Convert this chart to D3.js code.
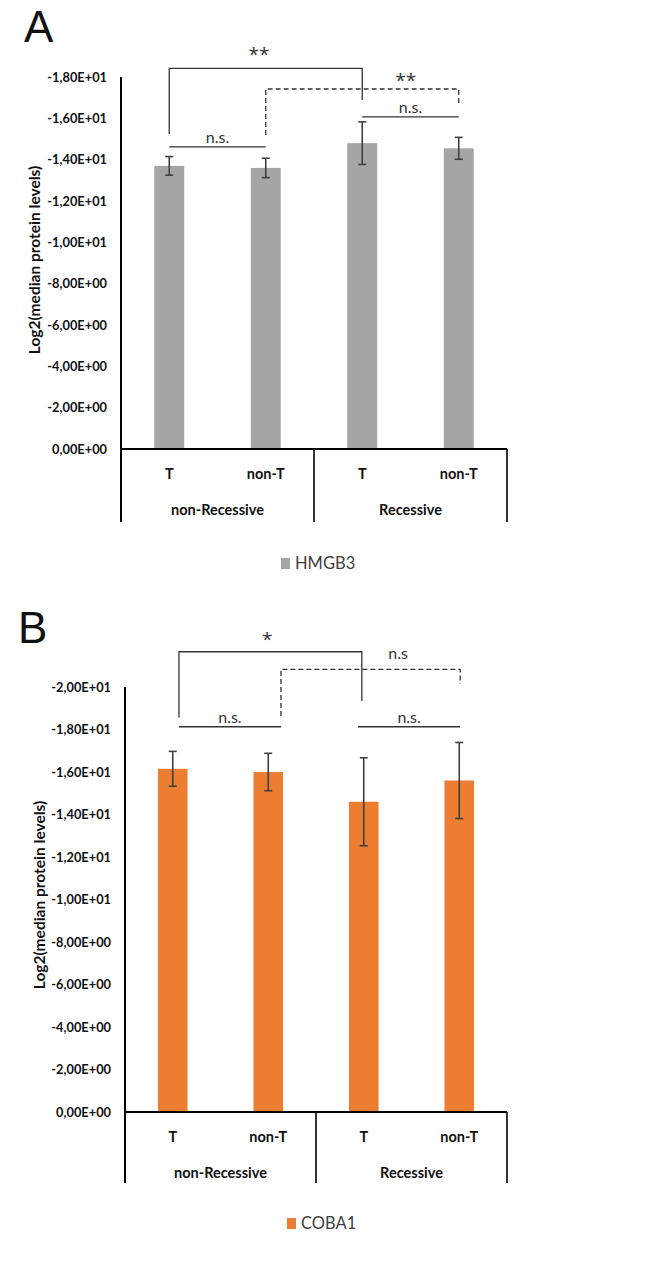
<!DOCTYPE html>
<html>
<head>
<meta charset="utf-8">
<script src="https://cdn.jsdelivr.net/npm/d3@7"></script>
<style>
  html, body { margin: 0; padding: 0; background: #fff; }
  svg { display: block; }
</style>
</head>
<body>
<svg id="chart" width="646" height="1268"></svg>
<script>
// ---------------- DATA ----------------
const categories = ["T", "non-T", "T", "non-T"];
const groups = ["non-Recessive", "Recessive"];

const hmgb3Values = [-13.7, -13.6, -14.8, -14.55];
const hmgb3Errors = [0.45, 0.47, 1.03, 0.53];
const hmgb3Ticks = [0, -2, -4, -6, -8, -10, -12, -14, -16, -18];

const coba1Values = [-16.15, -16.0, -14.6, -15.6];
const coba1Errors = [0.82, 0.88, 2.07, 1.79];
const coba1Ticks = [0, -2, -4, -6, -8, -10, -12, -14, -16, -18, -20];

// significance annotations: from/to category index (fractional), bracket level and leg ends (data units)
const hmgb3Signif = [
  { from: 0, to: 2, level: -18.42, leftEnd: -15.24, rightEnd: -16.89, label: "**", labelY: -19.3, labelX: 0.93, dashed: false },
  { from: 1, to: 3, level: -17.42, leftEnd: -15.19, rightEnd: -16.74, label: "**", labelY: -18.05, labelX: 2.45, dashed: true },
  { from: 0, to: 1, level: -14.62, label: "n.s.", dashed: false },
  { from: 2, to: 3, level: -16.07, label: "n.s.", dashed: false }
];
const coba1Signif = [
  { from: 0.065, to: 1.98, level: -21.66, leftEnd: -18.56, rightEnd: -19.34, label: "*", labelY: -22.45, labelX: 0.99, dashed: false },
  { from: 1.133, to: 3.01, level: -20.83, leftEnd: -18.64, rightEnd: -20.14, label: "n.s", labelY: -21.6, labelX: 2.36, dashed: true },
  { from: 0.065, to: 1.133, level: -18.13, label: "n.s.", dashed: false },
  { from: 1.94, to: 3.01, level: -18.13, label: "n.s.", dashed: false }
];

// ---------------- DRAW ----------------
const svg = d3.select("#chart");
const FONT = "Lato, 'Open Sans', 'DejaVu Sans', sans-serif";

function fmtTick(v) {
  if (v === 0) return "0,00E+00";
  const a = Math.abs(v);
  const e = Math.floor(Math.log10(a));
  const m = a / Math.pow(10, e);
  return (v < 0 ? "-" : "") + m.toFixed(2).replace(".", ",") + "E+" + String(e).padStart(2, "0");
}

function drawPanel(opt) {
  const g = svg.append("g");
  const { left, right, yZero, yTop, topVal, values, errors, ticks, color, signif, letter, letterX, letterY,
          legendLabel, legendX, legendY, titleX, titleY, sepBottom } = opt;

  const x = d3.scaleBand().domain(d3.range(categories.length)).range([left, right]).paddingInner(0).paddingOuter(0);
  const xi = d3.scaleLinear().domain([-0.5, categories.length - 0.5]).range([left, right]);
  const y = d3.scaleLinear().domain([0, topVal]).range([yZero, yTop]);

  // panel letter
  g.append("text").attr("x", letterX).attr("y", letterY)
    .attr("font-family", "'Liberation Sans', Arial, sans-serif").attr("font-size", 44)
    .attr("fill", "#111").text(letter);

  // y axis via d3.axisLeft
  const yAxis = d3.axisLeft(y).tickValues(ticks).tickFormat(fmtTick).tickSize(0).tickPadding(14);
  const ya = g.append("g").attr("transform", `translate(${left},0)`).call(yAxis);
  ya.select(".domain").remove();
  ya.selectAll("text").attr("font-family", FONT).attr("font-weight", "bold")
    .attr("font-size", 12.8).attr("fill", "#111");

  // y axis line (extends down to category separators)
  g.append("line").attr("x1", left).attr("x2", left).attr("y1", yTop).attr("y2", sepBottom)
    .attr("stroke", "#000").attr("stroke-width", 2);

  // y title
  g.append("text").attr("transform", `translate(${titleX},${titleY}) rotate(-90)`)
    .attr("text-anchor", "middle").attr("font-family", FONT).attr("font-weight", "bold")
    .attr("font-size", 15.5).attr("fill", "#111").text("Log2(median protein levels)");

  // bars
  const bw = x.bandwidth() * 0.31;
  g.selectAll("rect.bar").data(values).join("rect").attr("class", "bar")
    .attr("x", (d, i) => x(i) + x.bandwidth() / 2 - bw / 2)
    .attr("width", bw)
    .attr("y", d => y(d))
    .attr("height", d => y(0) - y(d))
    .attr("fill", color);

  // error bars
  const eb = g.selectAll("g.err").data(values.map((v, i) => ({ v, e: errors[i], i }))).join("g").attr("class", "err")
    .attr("stroke", "#404040").attr("stroke-width", 1.6);
  eb.append("line").attr("x1", d => xi(d.i)).attr("x2", d => xi(d.i))
    .attr("y1", d => y(d.v - d.e)).attr("y2", d => y(d.v + d.e));
  eb.append("line").attr("x1", d => xi(d.i) - 4).attr("x2", d => xi(d.i) + 4)
    .attr("y1", d => y(d.v - d.e)).attr("y2", d => y(d.v - d.e));
  eb.append("line").attr("x1", d => xi(d.i) - 4).attr("x2", d => xi(d.i) + 4)
    .attr("y1", d => y(d.v + d.e)).attr("y2", d => y(d.v + d.e));

  // baseline
  g.append("line").attr("x1", left).attr("x2", right).attr("y1", y(0)).attr("y2", y(0))
    .attr("stroke", "#000").attr("stroke-width", 2);

  // separators
  [left + (right - left) / 2, right].forEach(sx => {
    g.append("line").attr("x1", sx).attr("x2", sx).attr("y1", y(0)).attr("y2", sepBottom)
      .attr("stroke", "#000").attr("stroke-width", 1.6);
  });

  // category labels
  g.selectAll("text.cat").data(categories).join("text").attr("class", "cat")
    .attr("x", (d, i) => xi(i)).attr("y", y(0) + 30)
    .attr("text-anchor", "middle").attr("font-family", FONT).attr("font-weight", "bold")
    .attr("font-size", 14.5).attr("fill", "#111").text(d => d);

  // group labels
  g.selectAll("text.grp").data(groups).join("text").attr("class", "grp")
    .attr("x", (d, i) => xi(i * 2 + 0.5)).attr("y", y(0) + 66)
    .attr("text-anchor", "middle").attr("font-family", FONT).attr("font-weight", "bold")
    .attr("font-size", 14.5).attr("fill", "#111").text(d => d);

  // significance brackets
  signif.forEach(s => {
    const path = d3.path();
    if (s.leftEnd !== undefined) {
      path.moveTo(xi(s.from), y(s.leftEnd));
      path.lineTo(xi(s.from), y(s.level));
      path.lineTo(xi(s.to), y(s.level));
      path.lineTo(xi(s.to), y(s.rightEnd));
    } else {
      path.moveTo(xi(s.from), y(s.level));
      path.lineTo(xi(s.to), y(s.level));
    }
    g.append("path").attr("d", path.toString()).attr("fill", "none")
      .attr("stroke", "#333").attr("stroke-width", 1.3)
      .attr("stroke-dasharray", s.dashed ? "5,3" : null);

    const isStar = s.label.indexOf("*") >= 0;
    const lx = s.labelX !== undefined ? xi(s.labelX) : xi((s.from + s.to) / 2);
    const ly = s.labelY !== undefined ? y(s.labelY) + (isStar ? 11 : 6) : y(s.level) - 4;
    g.append("text").attr("x", lx).attr("y", ly).attr("text-anchor", "middle")
      .attr("font-family", isStar ? "'Open Sans', sans-serif" : FONT)
      .attr("font-size", isStar ? 19 : 16).attr("fill", "#333")
      .text(s.label);
  });

  // legend
  g.append("rect").attr("x", legendX).attr("y", legendY - 11).attr("width", 9).attr("height", 11).attr("fill", color);
  g.append("text").attr("x", legendX + 14).attr("y", legendY).attr("font-family", FONT)
    .attr("font-size", 16.5).attr("fill", "#404040").text(legendLabel);
}

drawPanel({
  left: 121, right: 507, yZero: 449, yTop: 77, topVal: -18,
  values: hmgb3Values, errors: hmgb3Errors, ticks: hmgb3Ticks, color: "#a5a5a5",
  signif: hmgb3Signif, letter: "A", letterX: 24, letterY: 42,
  legendLabel: "HMGB3", legendX: 281, legendY: 569, titleX: 40, titleY: 260, sepBottom: 522
});

drawPanel({
  left: 125, right: 507, yZero: 1112, yTop: 687, topVal: -20,
  values: coba1Values, errors: coba1Errors, ticks: coba1Ticks, color: "#ed7d31",
  signif: coba1Signif, letter: "B", letterX: 18, letterY: 643,
  legendLabel: "COBA1", legendX: 287, legendY: 1229, titleX: 45, titleY: 895, sepBottom: 1183
});
</script>
</body>
</html>
